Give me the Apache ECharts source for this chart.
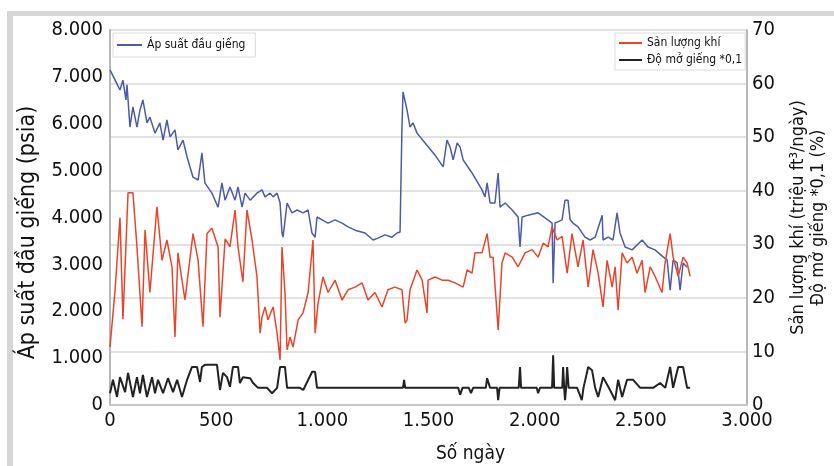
<!DOCTYPE html>
<html lang="vi">
<head>
<meta charset="UTF-8">
<title>Áp suất đầu giếng</title>
<script src="https://cdn.jsdelivr.net/npm/echarts@6/dist/echarts.min.js"></script>
<style>
  body { margin: 0; background: #fff; }
  .frame {
    position: absolute; left: 7px; top: 11px; width: 827px; height: 455px;
    border-left: 6px solid #d6d6d6; border-top: 5px solid #d6d6d6;
  }
  #main { position: absolute; left: 0; top: 0; width: 834px; height: 466px; }
</style>
</head>
<body>
<div class="frame"></div>
<div id="main"></div>
<script>
// [ngày, psia]
var apSuat = [[0,7150],[24,6930],[47,6720],[61,6930],[75,6510],[80,6830],[94,5930],[108,6360],[127,5930],[141,6290],[155,6510],[174,6020],[188,6140],[212,5800],[235,6020],[250,5650],[268,6080],[283,5720],[306,5870],[320,5440],[344,5650],[363,5290],[391,4860],[415,4800],[433,5380],[447,4740],[480,4520],[509,4220],[527,4740],[542,4370],[565,4650],[589,4370],[603,4650],[622,4220],[636,4520],[660,4370],[692,4520],[716,4590],[730,4440],[754,4520],[768,4440],[787,4520],[801,4310],[810,3670],[815,3580],[834,4310],[857,4100],[881,4160],[909,4100],[933,4160],[951,3670],[966,3580],[975,4010],[999,3950],[1027,3880],[1060,3950],[1093,3880],[1121,3800],[1154,3730],[1201,3670],[1239,3520],[1262,3560],[1295,3630],[1328,3580],[1352,3670],[1366,3690],[1375,5930],[1380,6680],[1399,6290],[1413,5930],[1427,6020],[1446,5800],[1484,5590],[1531,5330],[1569,5080],[1587,5650],[1602,5500],[1616,5230],[1635,5590],[1649,5500],[1663,5230],[1705,4950],[1752,4590],[1766,4440],[1776,4740],[1790,4310],[1813,4310],[1828,4950],[1837,4220],[1861,4310],[1894,4160],[1922,4010],[1931,3370],[1941,4010],[1969,4050],[2016,4100],[2049,3990],[2082,3880],[2087,2600],[2096,3880],[2129,3950],[2143,4370],[2157,4370],[2167,3950],[2181,3880],[2204,3800],[2237,3580],[2261,3520],[2285,3580],[2318,4050],[2322,3520],[2346,3580],[2369,3520],[2388,4100],[2402,3670],[2426,3370],[2459,3310],[2506,3520],[2534,3370],[2567,3310],[2605,3160],[2624,3090],[2638,2450],[2652,3090],[2671,3030],[2685,2450],[2699,3030],[2718,2940]];

// [ngày, triệu ft3/ngày]
var sanLuong = [[0,10.8],[24,21.5],[47,35],[61,16],[85,39.6],[108,39.6],[127,29.5],[151,14.6],[165,32.7],[188,21],[221,37],[245,27],[268,30.8],[292,25.8],[306,12.7],[320,28.4],[353,19.6],[391,32],[415,27],[438,14.6],[457,32],[480,33],[509,29.5],[518,16.4],[542,31],[565,29.5],[589,36.4],[603,29.5],[626,23],[645,36.4],[669,30.8],[692,24],[707,13.4],[716,16.4],[730,18.3],[744,15.9],[768,18.3],[787,13.4],[801,8.4],[810,29.5],[824,21],[834,10.3],[848,12.7],[862,10.8],[886,15.9],[909,17.2],[933,21],[956,30.8],[966,13.4],[980,19],[1003,23.9],[1027,21],[1060,23.3],[1093,19.6],[1121,21.5],[1154,22],[1187,22.8],[1215,19.6],[1248,21],[1281,18.3],[1309,21.5],[1342,22],[1375,21.5],[1390,15.3],[1399,15.9],[1413,21.5],[1446,25.2],[1470,23.3],[1493,17.2],[1498,23.3],[1531,23.9],[1564,23.3],[1592,23.3],[1625,22.8],[1663,22],[1682,25.2],[1705,24.6],[1719,28.4],[1752,28.4],[1776,32],[1790,27.6],[1804,27.6],[1828,14],[1846,26.5],[1861,28.4],[1894,27.6],[1922,25.8],[1955,28.4],[1988,29],[2016,27.6],[2040,30.2],[2063,29.5],[2082,33.2],[2106,30.8],[2129,31.5],[2153,24.6],[2176,32],[2204,25.8],[2228,30.8],[2252,22],[2275,29],[2299,24.6],[2322,18.3],[2341,27],[2365,22],[2379,25.8],[2393,17.7],[2412,28.4],[2435,26.5],[2459,27.6],[2482,24.6],[2506,27],[2520,21],[2544,25.8],[2567,24],[2600,21],[2614,26.5],[2638,32],[2652,27.6],[2676,24],[2699,27.6],[2718,26.5],[2732,24]];

// [ngày, % * 0,1]
var doMo = [[0,2.2],[14,4.7],[33,1.5],[47,5.2],[71,2.4],[85,6],[108,1.5],[127,5.2],[141,2.2],[155,5.6],[174,1.5],[198,5.2],[212,2.2],[226,4.7],[250,2.2],[273,5],[297,2.4],[316,4.7],[339,1.5],[363,4.7],[386,7.1],[410,7.1],[424,4.3],[433,7.1],[447,7.5],[471,7.5],[504,7.5],[518,2.8],[532,6],[551,5.2],[565,3.4],[579,7.1],[603,7.1],[612,4.1],[626,5.2],[660,5],[674,4.1],[697,3.2],[740,3.2],[763,2.2],[787,3.2],[801,7.1],[824,7.1],[834,3.2],[895,3.2],[910,2.8],[952,6.2],[966,6.2],[975,3.2],[1380,3.2],[1385,4.7],[1390,3.2],[1640,3.2],[1649,1.9],[1660,3.2],[1690,3.2],[1700,2.2],[1710,3.2],[1770,3.2],[1776,5],[1790,3.2],[1823,3.2],[1828,0.9],[1835,3.2],[1925,3.2],[1931,7.1],[1936,3.2],[2010,3.2],[2016,2.2],[2025,3.2],[2082,3.2],[2087,9.3],[2092,3.2],[2130,3.2],[2134,7.1],[2139,3.2],[2143,0.9],[2148,3.2],[2153,7.1],[2160,3.2],[2200,3.2],[2222,0.9],[2230,3.2],[2252,7.1],[2270,6.5],[2285,3.2],[2299,1.5],[2322,5.2],[2355,2.8],[2379,0.9],[2393,4.7],[2412,1.5],[2435,4.7],[2464,4.7],[2497,3.2],[2558,3.2],[2591,4.1],[2615,3.2],[2638,7.1],[2652,3.2],[2676,7.1],[2699,7.1],[2718,3.2],[2732,3.2]];

var FONT = "'DejaVu Sans Condensed', 'Liberation Sans Narrow', sans-serif";

// 1000 -> "1.000"
function dotFmt(v) {
    if (v < 1000) return String(v);
    return Math.floor(v / 1000) + '.' + String(v % 1000).padStart(3, '0');
}

var chart = echarts.init(document.getElementById('main'));
var option = {
    animation: false,
    textStyle: { fontFamily: FONT, color: '#111' },
    grid: { left: 110, right: 87, top: 30, bottom: 61, outerBoundsMode: 'none' },
    legend: [
        {
            data: ['Áp suất đầu giếng'],
            left: 113, top: 33,
            padding: [6, 10, 6, 4],
            borderColor: '#dcdcdc', borderWidth: 1,
            backgroundColor: '#fff',
            itemWidth: 25, itemHeight: 2, icon: 'rect',
            textStyle: { fontFamily: FONT, fontSize: 12, color: '#111' }
        },
        {
            data: ['Sản lượng khí', 'Độ mở giếng *0,1'],
            left: 615, top: 33, orient: 'vertical',
            padding: [4, 3, 4, 4], itemGap: 5,
            borderColor: '#dcdcdc', borderWidth: 1,
            backgroundColor: '#fff',
            itemWidth: 23, itemHeight: 2, icon: 'rect',
            textStyle: { fontFamily: FONT, fontSize: 12, color: '#111' }
        }
    ],
    xAxis: {
        type: 'value', min: 0, max: 3000, interval: 500,
        name: 'Số ngày', nameLocation: 'middle', nameGap: 40,
        nameTextStyle: { fontFamily: FONT, fontSize: 19, color: '#111', padding: [0, 0, 0, 84] },
        axisLine: { show: true, lineStyle: { color: '#c8c8c8', width: 2 } },
        axisTick: { show: false },
        axisLabel: { fontFamily: FONT, fontSize: 20, color: '#111', margin: 6, formatter: dotFmt },
        splitLine: { show: false }
    },
    yAxis: [
        {
            type: 'value', min: 0, max: 8000, interval: 1000,
            name: 'Áp suất đầu giếng (psia)', nameLocation: 'middle', nameGap: 70,
            nameTextStyle: { fontFamily: FONT, fontSize: 23, color: '#111', padding: [0, 30, 0, 0] },
            axisLine: { show: true, lineStyle: { color: '#b8b8b8', width: 2 } },
            axisTick: { show: false },
            axisLabel: { fontFamily: FONT, fontSize: 20, color: '#111', margin: 7, formatter: dotFmt },
            splitLine: { show: false }
        },
        {
            type: 'value', min: 0, max: 70, interval: 10, position: 'right',
            name: 'Sản lượng khí (triệu ft³/ngày)\nĐộ mở giếng *0,1 (%)',
            nameLocation: 'middle', nameGap: 41, nameRotate: 90,
            nameTextStyle: { fontFamily: FONT, fontSize: 18, color: '#111', lineHeight: 20 },
            axisLine: { show: true, lineStyle: { color: '#b8b8b8', width: 2 } },
            axisTick: { show: false },
            axisLabel: { fontFamily: FONT, fontSize: 20, color: '#111', margin: 5 },
            splitLine: { show: true, lineStyle: { color: '#e2e2e2', width: 2 } }
        }
    ],
    series: [
        {
            name: 'Áp suất đầu giếng', type: 'line', yAxisIndex: 0,
            data: apSuat, showSymbol: false,
            lineStyle: { color: '#4c5ba8', width: 1.5 }, itemStyle: { color: '#4c5ba8' }
        },
        {
            name: 'Sản lượng khí', type: 'line', yAxisIndex: 1,
            data: sanLuong, showSymbol: false,
            lineStyle: { color: '#e8452c', width: 1.5 }, itemStyle: { color: '#e8452c' }
        },
        {
            name: 'Độ mở giếng *0,1', type: 'line', yAxisIndex: 1,
            data: doMo, showSymbol: false,
            lineStyle: { color: '#222', width: 2 }, itemStyle: { color: '#222' }
        }
    ]
};
chart.setOption(option);
</script>
</body>
</html>
